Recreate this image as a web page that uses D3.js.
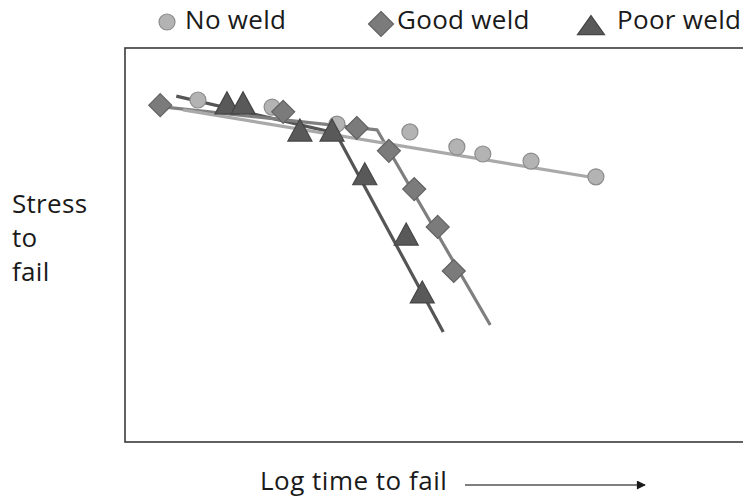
<!DOCTYPE html>
<html><head><meta charset="utf-8">
<script src="https://cdn.jsdelivr.net/npm/d3@7"></script>
<style>html,body{margin:0;padding:0;background:#fff;overflow:hidden}</style>
</head><body>
<svg id="chart" width="743" height="498"></svg>
<script>
// ---- data (arbitrary units: x = log time to fail, y = stress to fail) ----
const seriesNames = ["No weld", "Good weld", "Poor weld"];
const noWeldX = [1.18, 2.38, 3.43, 4.61, 5.37, 5.79, 6.57, 7.62];
const noWeldY = [8.68, 8.50, 8.07, 7.87, 7.49, 7.31, 7.13, 6.73];
const goodWeldX = [0.57, 2.56, 3.75, 4.27, 4.68, 5.06, 5.32];
const goodWeldY = [8.55, 8.38, 7.97, 7.39, 6.42, 5.46, 4.34];
const poorWeldX = [1.65, 1.91, 2.83, 3.35, 3.88, 4.55, 4.81];
const poorWeldY = [8.58, 8.58, 7.89, 7.89, 6.78, 5.25, 3.78];
// trend lines
const noWeldFitX = [0.94, 7.62];
const noWeldFitY = [8.43, 6.70];
const goodWeldFitX = [0.65, 4.08, 5.91];
const goodWeldFitY = [8.50, 7.92, 2.97];
const poorWeldFitX = [0.83, 3.41, 5.15];
const poorWeldFitY = [8.78, 7.84, 2.79];
const xDomain = [0, 10];
const yDomain = [0, 10];
const yLabelLines = ["Stress", "to", "fail"];
const xLabel = "Log time to fail";

const svg = d3.select("#chart");
const FONT = "'Open Sans', 'Noto Sans', sans-serif";
const FS = 26;
const plot = {left: 125, top: 48, right: 743, bottom: 442};

const x = d3.scaleLinear().domain(xDomain).range([plot.left, plot.right]);
const y = d3.scaleLinear().domain(yDomain).range([plot.bottom, plot.top]);

// frame (right edge extends beyond view)
svg.append("rect")
  .attr("x", plot.left).attr("y", plot.top)
  .attr("width", plot.right - plot.left + 20).attr("height", plot.bottom - plot.top)
  .attr("fill", "none").attr("stroke", "#3a3a3a").attr("stroke-width", 1.6);

const zip = (xs, ys) => xs.map((v, i) => ({x: v, y: ys[i]}));
const line = d3.line().x(d => x(d.x)).y(d => y(d.y));

const styles = [
  {pts: zip(noWeldX, noWeldY), fit: zip(noWeldFitX, noWeldFitY), line: "#a9a9a9", fill: "#b3b3b3", stroke: "#8c8c8c", shape: "circle"},
  {pts: zip(goodWeldX, goodWeldY), fit: zip(goodWeldFitX, goodWeldFitY), line: "#7f7f7f", fill: "#7b7b7b", stroke: "#626262", shape: "diamond"},
  {pts: zip(poorWeldX, poorWeldY), fit: zip(poorWeldFitX, poorWeldFitY), line: "#555555", fill: "#595959", stroke: "#454545", shape: "triangle"}
];

// size: circle -> radius; diamond -> half diagonal; triangle -> [halfWidth, height]
function drawMarker(g, shape, cx, cy, st, size) {
  if (shape === "circle") {
    g.append("circle").attr("cx", cx).attr("cy", cy).attr("r", size)
      .attr("fill", st.fill).attr("stroke", st.stroke).attr("stroke-width", 1.2);
    return;
  }
  let d;
  if (shape === "diamond") d = `M0,${-size}L${size},0L0,${size}L${-size},0Z`;
  else {
    const [hw, h] = size;
    d = `M0,${-h * 0.55}L${hw},${h * 0.45}L${-hw},${h * 0.45}Z`;
  }
  g.append("path").attr("d", d).attr("transform", `translate(${cx},${cy})`)
    .attr("fill", st.fill).attr("stroke", st.stroke).attr("stroke-width", 1.2);
}

// trend lines
const gLines = svg.append("g");
[2, 1, 0].forEach(i => {
  gLines.append("path").datum(styles[i].fit).attr("d", line)
    .attr("fill", "none").attr("stroke", styles[i].line).attr("stroke-width", 3.2)
    .attr("stroke-linejoin", "round");
});
// markers
const gPts = svg.append("g");
const sizes = {circle: 8, diamond: 11.5, triangle: [12, 22]};
[0, 1, 2].forEach(i => {
  const st = styles[i];
  st.pts.forEach(p => drawMarker(gPts, st.shape, x(p.x), y(p.y), st, sizes[st.shape]));
});

// legend
const legend = svg.append("g");
const legendItems = [
  {mx: 167, my: 22, tx: 185, size: 8},
  {mx: 381, my: 24, tx: 397, size: 12.5},
  {mx: 591, my: 26, tx: 617, size: [13.5, 19]}
];
legendItems.forEach((it, i) => {
  drawMarker(legend, styles[i].shape, it.mx, it.my, styles[i], it.size);
  legend.append("text").attr("x", it.tx).attr("y", 29)
    .attr("font-family", FONT).attr("font-size", FS).attr("fill", "#1a1a1a")
    .attr("letter-spacing", 0.3)
    .text(seriesNames[i]);
});

// y label
const yLab = svg.append("text").attr("font-family", FONT).attr("font-size", FS)
  .attr("fill", "#1a1a1a").attr("letter-spacing", 0.3);
yLabelLines.forEach((t, i) => {
  yLab.append("tspan").attr("x", 12).attr("y", 213 + i * 34).text(t);
});

// x label + arrow
svg.append("defs").append("marker").attr("id", "ah")
  .attr("viewBox", "0 0 10 10").attr("refX", 9).attr("refY", 5)
  .attr("markerWidth", 6).attr("markerHeight", 6).attr("orient", "auto")
  .attr("markerUnits", "userSpaceOnUse")
  .append("path").attr("d", "M0,0L10,5L0,10Z").attr("fill", "#1a1a1a");
svg.append("text").attr("x", 260).attr("y", 490)
  .attr("font-family", FONT).attr("font-size", FS).attr("fill", "#1a1a1a")
  .attr("letter-spacing", 0.5)
  .text(xLabel);
svg.append("line").attr("x1", 465).attr("x2", 645).attr("y1", 485).attr("y2", 485)
  .attr("stroke", "#555").attr("stroke-width", 1.6).attr("marker-end", "url(#ah)");
// make the arrowhead match reference size
d3.select("#ah").attr("markerWidth", 11).attr("markerHeight", 9);
</script>
</body></html>
